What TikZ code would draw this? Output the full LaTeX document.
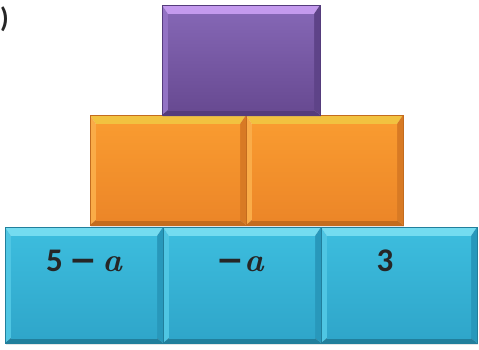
\documentclass[tikz,border=0pt]{standalone}
\usepackage{fontspec}
\setmainfont{Carlito}
\newfontfamily\lmr{Latin Modern Roman}
\newfontfamily\dv{DejaVu Sans}
\usetikzlibrary{shadows}
\definecolor{pfaceT}{HTML}{8466B4}
\definecolor{pfaceB}{HTML}{684A92}
\definecolor{ptop}{HTML}{C49AEE}
\definecolor{pleft}{HTML}{9373C4}
\definecolor{pright}{HTML}{5E4388}
\definecolor{pbot}{HTML}{553C7C}
\definecolor{ofaceT}{HTML}{F99B30}
\definecolor{ofaceB}{HTML}{EC8628}
\definecolor{otop}{HTML}{F2C240}
\definecolor{oleft}{HTML}{FAAC48}
\definecolor{oright}{HTML}{D87A24}
\definecolor{obot}{HTML}{C46C1E}
\definecolor{bfaceT}{HTML}{3CBCDD}
\definecolor{bfaceB}{HTML}{2FA6CA}
\definecolor{btop}{HTML}{74DCF0}
\definecolor{bleft}{HTML}{4FC6E3}
\definecolor{bright}{HTML}{2898BB}
\definecolor{bbot}{HTML}{217F9C}
\newcommand{\mvar}{{\lmr\bfseries\itshape a}}
\newcommand{\mminus}{{\dv\bfseries −}}
\tikzset{
  blk/.style n args={7}{%
    inner sep=0pt, outer sep=0pt, draw=#7, line width=0.5pt,
    drop shadow={opacity=0.2, shadow xshift=1pt, shadow yshift=-2pt},
    path picture={
      \path (path picture bounding box.north west) coordinate (pnw)
            (path picture bounding box.north east) coordinate (pne)
            (path picture bounding box.south west) coordinate (psw)
            (path picture bounding box.south east) coordinate (pse);
      \path ([shift={(6pt,-9pt)}]pnw) coordinate (qnw)
            ([shift={(-6pt,-9pt)}]pne) coordinate (qne)
            ([shift={(6pt,5pt)}]psw) coordinate (qsw)
            ([shift={(-6pt,5pt)}]pse) coordinate (qse);
      \fill[#3] (pnw) -- (pne) -- (qne) -- (qnw) -- cycle;
      \fill[#4] (pnw) -- (qnw) -- (qsw) -- (psw) -- cycle;
      \fill[#5] (pne) -- (qne) -- (qse) -- (pse) -- cycle;
      \fill[#6] (psw) -- (qsw) -- (qse) -- (pse) -- cycle;
      \shade[top color=#1, bottom color=#2] (qnw) rectangle (qse);
    }},
  pblk/.style={blk={pfaceT}{pfaceB}{ptop}{pleft}{pright}{pbot}{pbot}},
  oblk/.style={blk={ofaceT}{ofaceB}{otop}{oleft}{oright}{obot}{obot}},
  bblk/.style={blk={bfaceT}{bfaceB}{btop}{bleft}{bright}{bbot}{bbot}},
  lbl/.style={font=\fontsize{33}{38}\selectfont\bfseries, text=black!85, inner sep=0pt},
  tag/.style={font=\fontsize{28}{32}\selectfont\bfseries, text=black!85, inner sep=0pt}
}
\begin{document}
\begin{tikzpicture}[x=1pt,y=-1pt]
\useasboundingbox[fill=white] (0,0) rectangle (479,349);
% bottom row
\node[bblk, minimum width=158pt, minimum height=116pt] (b1) at (84,285) {};
\node[bblk, minimum width=158pt, minimum height=116pt] (b2) at (242,285) {};
\node[bblk, minimum width=156pt, minimum height=116pt] (b3) at (399,285) {};
% middle row
\node[oblk, minimum width=156pt, minimum height=110pt] (o1) at (168,170) {};
\node[oblk, minimum width=157pt, minimum height=110pt] (o2) at (324.5,170) {};
% top
\node[pblk, minimum width=158pt, minimum height=110pt] (p1) at (241,60) {};
% labels
\node[lbl, anchor=base] (t1) at (84,271) {5\hspace{7pt}\mminus\hspace{5pt}\mvar};
\node[lbl, anchor=base] (t2) at (240,271) {\mminus\mvar};
\node[lbl, anchor=base] (t3) at (385,271) {3};
\node[tag, anchor=east] (tg) at (9,19) {)};
\end{tikzpicture}
\end{document}
